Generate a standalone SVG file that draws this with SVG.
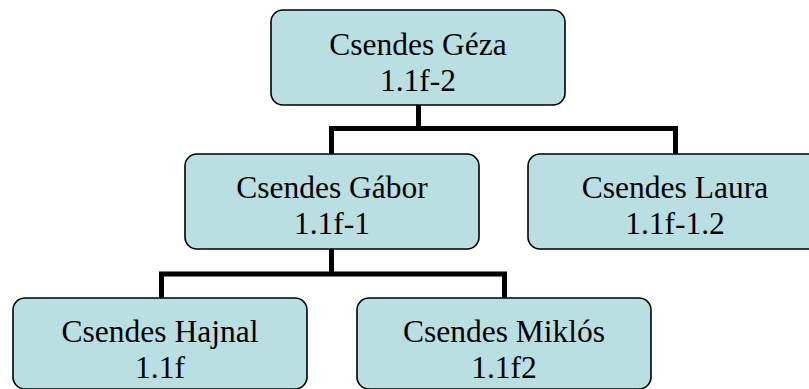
<svg xmlns="http://www.w3.org/2000/svg" width="809" height="389" viewBox="0 0 809 389">
<style>
.box{fill:#b9dfe3;stroke:#000;stroke-width:1.6}
.c{fill:none;stroke:#000;stroke-width:5;stroke-linecap:butt;stroke-linejoin:miter}
</style>
<rect width="809" height="389" fill="#fff"/>
<g id="connectors">
<path class="c" d="M418.5,105 V128.5 M331.5,128.5 H675.5 M331.5,126 V154 M675.5,126 V154"/>
<path class="c" d="M331.5,249 V274 M161.5,274 H504.5 M161.5,271.5 V298 M504.5,271.5 V298"/>
</g>
<g id="geza">
<rect class="box" x="271" y="10" width="294" height="95" rx="12"/>
<text font-family="Liberation Serif" font-size="31.5" text-anchor="middle" x="418" y="55">Csendes Géza</text>
<text font-family="Liberation Serif" font-size="31.5" text-anchor="middle" x="418" y="91">1.1f-2</text>
</g>
<g id="gabor">
<rect class="box" x="185" y="154" width="294" height="95" rx="12"/>
<text font-family="Liberation Serif" font-size="31.5" text-anchor="middle" x="332" y="198">Csendes Gábor</text>
<text font-family="Liberation Serif" font-size="31.5" text-anchor="middle" x="332" y="234">1.1f-1</text>
</g>
<g id="laura">
<rect class="box" x="528" y="154" width="294" height="95" rx="12"/>
<text font-family="Liberation Serif" font-size="31.5" text-anchor="middle" x="675" y="198">Csendes Laura</text>
<text font-family="Liberation Serif" font-size="31.5" text-anchor="middle" x="675" y="234">1.1f-1.2</text>
</g>
<g id="hajnal">
<rect class="box" x="13" y="298" width="294" height="91" rx="12"/>
<text font-family="Liberation Serif" font-size="31.5" text-anchor="middle" x="160" y="342">Csendes Hajnal</text>
<text font-family="Liberation Serif" font-size="31.5" text-anchor="middle" x="160" y="378">1.1f</text>
</g>
<g id="miklos">
<rect class="box" x="357" y="298" width="294" height="91" rx="12"/>
<text font-family="Liberation Serif" font-size="31.5" text-anchor="middle" x="504" y="342">Csendes Miklós</text>
<text font-family="Liberation Serif" font-size="31.5" text-anchor="middle" x="504" y="378">1.1f2</text>
</g>
</svg>
